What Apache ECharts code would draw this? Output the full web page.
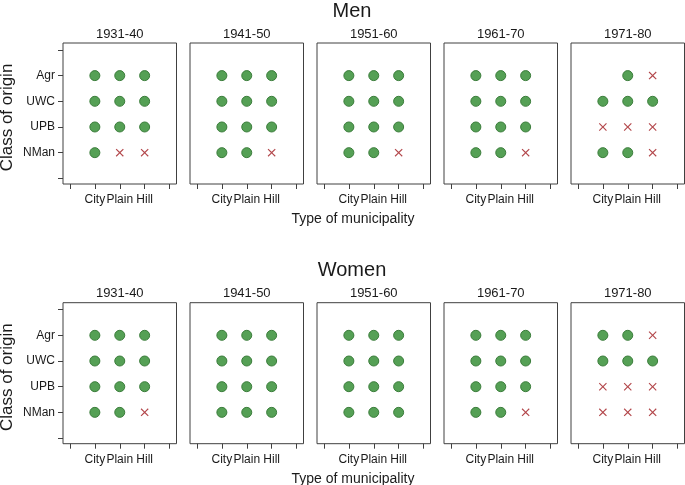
<!DOCTYPE html>
<html><head><meta charset="utf-8">
<script src="https://cdn.jsdelivr.net/npm/echarts@6/dist/echarts.min.js"></script>
<style>html,body{margin:0;padding:0;background:#fff}#c{width:685px;height:485px}</style>
</head><body><div id="c"></div>
<script>
// Categories
const periods = ['1931-40','1941-50','1951-60','1961-70','1971-80'];
const municipalities = ['City','Plain','Hill'];          // x = 1,2,3
const classes = ['NMan','UPB','UWC','Agr'];               // y = 1,2,3,4
const rowTitles = ['Men','Women'];
// Values per panel: rows in order Agr, UWC, UPB, NMan; columns City, Plain, Hill
// 1 = circle (effect present), 0 = cross, null = no mark
const men_1931_40 = [[1,1,1],[1,1,1],[1,1,1],[1,0,0]];
const men_1941_50 = [[1,1,1],[1,1,1],[1,1,1],[1,1,0]];
const men_1951_60 = [[1,1,1],[1,1,1],[1,1,1],[1,1,0]];
const men_1961_70 = [[1,1,1],[1,1,1],[1,1,1],[1,1,0]];
const men_1971_80 = [[null,1,0],[1,1,1],[0,0,0],[1,1,0]];
const women_1931_40 = [[1,1,1],[1,1,1],[1,1,1],[1,1,0]];
const women_1941_50 = [[1,1,1],[1,1,1],[1,1,1],[1,1,1]];
const women_1951_60 = [[1,1,1],[1,1,1],[1,1,1],[1,1,1]];
const women_1961_70 = [[1,1,1],[1,1,1],[1,1,1],[1,1,0]];
const women_1971_80 = [[1,1,0],[1,1,1],[0,0,0],[0,0,0]];

const panels = [
  [men_1931_40, men_1941_50, men_1951_60, men_1961_70, men_1971_80],
  [women_1931_40, women_1941_50, women_1951_60, women_1961_70, women_1971_80]
];
const rowOrder = ['Agr','UWC','UPB','NMan'];

const FONT = 'Liberation Sans, Arial, sans-serif';
const TXT = '#1a1a1a';
const crossPath = 'path://M1,0L5,4L9,0L10,1L6,5L10,9L9,10L5,6L1,10L0,9L4,5L0,1Z';

const grids = [], xAxes = [], yAxes = [], series = [], graphics = [];
const rowTop = [43, 302.7], rowH = 141;
const left0 = 63, step = 127, pw = 113.5;

for (let r = 0; r < 2; r++) {
  graphics.push({type:'text', x: 352, y: rowTop[r] - 32, style:{text: rowTitles[r], font: '20px '+FONT, fill: TXT, align:'center', verticalAlign:'middle'}});
  graphics.push({type:'text', x: 353, y: rowTop[r] + rowH + 35, style:{text:'Type of municipality', font:'14px '+FONT, fill: TXT, align:'center', verticalAlign:'middle'}});
  graphics.push({type:'text', x: 7, y: rowTop[r] + rowH/2 + 4, rotation: Math.PI/2, style:{text:'Class of origin', font:'17px '+FONT, fill: TXT, align:'center', verticalAlign:'middle'}});
  for (let p = 0; p < 5; p++) {
    const idx = grids.length;
    const left = left0 + p*step;
    grids.push({left: left, top: rowTop[r], width: pw, height: rowH, show: true, borderColor: '#404040', borderWidth: 1, backgroundColor:'transparent'});
    graphics.push({type:'text', x: left + pw/2, y: rowTop[r] - 9, style:{text: periods[p], font:'13px '+FONT, fill: TXT, align:'center', verticalAlign:'middle'}});
    xAxes.push({type:'value', gridIndex: idx, min: -0.28, max: 4.28, position:'bottom',
      axisLine:{show:false, onZero:false}, splitLine:{show:false},
      axisTick:{show:true, inside:false, length:5, lineStyle:{color:'#404040'}, customValues:[0,1,2,3,4]},
      axisLabel:{show:true, margin:10, color: TXT, fontSize:12, fontFamily: FONT, customValues:[1,2,3], formatter: v => municipalities[Math.round(v)-1] || ''}
    });
    yAxes.push({type:'value', gridIndex: idx, min: -0.22, max: 5.27, position:'left',
      axisLine:{show:false, onZero:false}, splitLine:{show:false},
      axisTick:{show: p===0, inside:false, length:5, lineStyle:{color:'#404040'}, customValues:[0,1,2,3,4,5]},
      axisLabel:{show: p===0, margin:8, color: TXT, fontSize:12, fontFamily: FONT, customValues:[1,2,3,4], formatter: v => classes[Math.round(v)-1] || ''}
    });
    const circ = [], cross = [];
    const d = panels[r][p];
    d.forEach((row, ri) => {
      const y = classes.indexOf(rowOrder[ri]) + 1;
      row.forEach((v, ci) => {
        if (v === 1) circ.push([ci+1, y]);
        else if (v === 0) cross.push([ci+1, y]);
      });
    });
    series.push({type:'scatter', xAxisIndex: idx, yAxisIndex: idx, data: circ, symbol:'circle', symbolSize: 10,
      itemStyle:{color:'#55a055', borderColor:'#3b7d3b', borderWidth:1, opacity:1}, silent:true, animation:false});
    series.push({type:'scatter', xAxisIndex: idx, yAxisIndex: idx, data: cross, symbol: crossPath, symbolSize: 8,
      itemStyle:{color:'#b3474b', opacity:1}, silent:true, animation:false});
  }
}

const chart = echarts.init(document.getElementById('c'), null, {renderer:'canvas'});
chart.setOption({
  animation:false,
  backgroundColor:'#ffffff',
  grid: grids, xAxis: xAxes, yAxis: yAxes, series: series, graphic: graphics
});
</script></body></html>
